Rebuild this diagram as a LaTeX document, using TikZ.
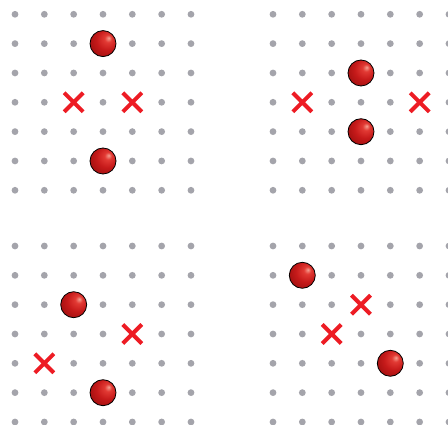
\documentclass[tikz,border=0pt]{standalone}
\usetikzlibrary{shapes.misc}
\definecolor{dotgray}{RGB}{164,164,171}
\definecolor{xred}{RGB}{237,28,36}
\definecolor{ballhi}{RGB}{245,160,145}
\definecolor{ballmid}{RGB}{226,58,52}
\definecolor{ballred}{RGB}{198,26,26}
\definecolor{balldark}{RGB}{135,8,8}
\definecolor{balledge}{RGB}{90,0,0}
\pgfdeclareradialshading{redball}{\pgfqpoint{11bp}{11bp}}{color(0bp)=(ballhi); color(7bp)=(ballmid); color(20bp)=(ballred); color(45bp)=(balldark); color(65bp)=(balledge)}
\tikzset{
  griddot/.style={fill=dotgray, draw=none},
  ballnode/.style={circle, draw=black, line width=0.8pt, shading=redball, minimum size=26pt, inner sep=0pt},
  crossnode/.style={cross out, draw=xred, line width=4pt, minimum size=15pt, inner sep=0pt},
}
\newcommand\skipcell[3]{\expandafter\def\csname sk#1:#2:#3\endcsname{}}
\newcommand\dotpanel[3]{%
  \foreach \i in {0,...,6}{\foreach \j in {0,...,6}{%
    \ifcsname sk#1:\i:\j\endcsname\else
      \fill[griddot] ({#2+29.33*\i},{#3+29.33*\j}) circle[radius=3.4];
    \fi}}}
\skipcell{TL}{3}{1}\skipcell{TL}{3}{5}\skipcell{TL}{2}{3}\skipcell{TL}{4}{3}
\skipcell{TR}{3}{2}\skipcell{TR}{3}{4}\skipcell{TR}{1}{3}\skipcell{TR}{5}{3}
\skipcell{BL}{2}{2}\skipcell{BL}{3}{5}\skipcell{BL}{4}{3}\skipcell{BL}{1}{4}
\skipcell{BR}{1}{1}\skipcell{BR}{4}{4}\skipcell{BR}{3}{2}\skipcell{BR}{2}{3}
\begin{document}
\begin{tikzpicture}[x=1pt,y=-1pt]
\useasboundingbox (0,0) rectangle (448,425);
\dotpanel{TL}{15}{14.3}
\dotpanel{TR}{273}{14.3}
\dotpanel{BL}{15}{246}
\dotpanel{BR}{273}{246}
% top left
\node[ballnode] (tlA) at (103,43.6) {};
\node[ballnode] (tlB) at (103,161) {};
\node[crossnode] (tlX) at (73.7,102.3) {};
\node[crossnode] (tlY) at (132.3,102.3) {};
% top right
\node[ballnode] (trA) at (361,73) {};
\node[ballnode] (trB) at (361,131.7) {};
\node[crossnode] (trX) at (302.3,102.3) {};
\node[crossnode] (trY) at (419.7,102.3) {};
% bottom left
\node[ballnode] (blA) at (73.7,304.7) {};
\node[ballnode] (blB) at (103,392.7) {};
\node[crossnode] (blX) at (132.3,334) {};
\node[crossnode] (blY) at (44.3,363.3) {};
% bottom right
\node[ballnode] (brA) at (302.3,275.3) {};
\node[ballnode] (brB) at (390.3,363.3) {};
\node[crossnode] (brX) at (361,304.7) {};
\node[crossnode] (brY) at (331.7,334) {};
\end{tikzpicture}
\end{document}
